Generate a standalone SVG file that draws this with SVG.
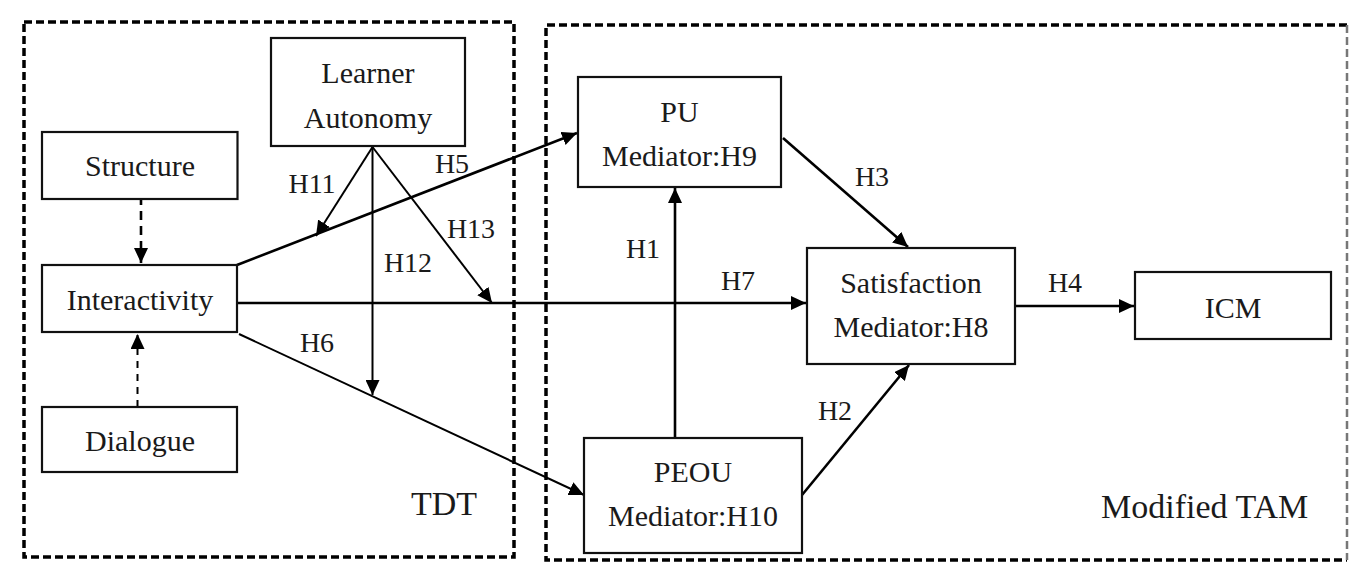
<svg xmlns="http://www.w3.org/2000/svg" width="1368" height="582" viewBox="0 0 1368 582">
<style>
.grp{fill:none;stroke:#000;stroke-width:3.5;stroke-dasharray:8 4}
.box{fill:#fff;stroke:#111;stroke-width:2.2}
text{font-family:'Liberation Serif','DejaVu Serif',serif;fill:#1a1a1a}
.t{font-size:30px;text-anchor:middle}
.lbl{font-size:28px;text-anchor:middle}
.big{font-size:34px}
.c{fill:none;stroke:#000;stroke-width:2.6}
.th{fill:none;stroke:#000;stroke-width:2}
.d1{fill:none;stroke:#000;stroke-width:2.6;stroke-dasharray:9 6}
.d2{fill:none;stroke:#000;stroke-width:2;stroke-dasharray:7 6}
</style>
<defs>
<marker id="ah" markerUnits="userSpaceOnUse" markerWidth="16" markerHeight="14" refX="15" refY="7" orient="auto">
<path d="M0,0 L15,7 L0,14 z" fill="#000"/>
</marker>
</defs>
<rect width="1368" height="582" fill="#fff"/>
<g id="group-TDT">
<rect class="grp" x="24" y="22" width="490" height="535"/>
<text class="big" x="411" y="515">TDT</text>
</g>
<g id="group-TAM">
<path class="grp" d="M1347,25 L546,25 L546,560 L1347,560"/>
<path d="M1347,25 L1347,560" fill="none" stroke="#777" stroke-width="2.5" stroke-dasharray="8 4"/>
<text class="big" x="1101" y="518">Modified TAM</text>
</g>
<g id="connectors">
<path class="d1" d="M141,196 L141,263" marker-end="url(#ah)"/>
<path class="d2" d="M137.5,407 L137.5,334" marker-end="url(#ah)"/>
<path class="c" d="M237,265 L577,133" marker-end="url(#ah)"/>
<path class="c" d="M237,303 L806,303" marker-end="url(#ah)"/>
<path class="th" d="M239,334 L584,495" marker-end="url(#ah)"/>
<path class="th" d="M372.5,147 L316,236" marker-end="url(#ah)"/>
<path class="th" d="M372.5,147 L372.5,395" marker-end="url(#ah)"/>
<path class="th" d="M372.5,147 L492,303" marker-end="url(#ah)"/>
<path class="c" d="M675,438 L675,188" marker-end="url(#ah)"/>
<path class="c" d="M783,138 L908,247" marker-end="url(#ah)"/>
<path class="c" d="M802,495 L909,365" marker-end="url(#ah)"/>
<path class="c" d="M1015,306 L1134,306" marker-end="url(#ah)"/>
<text class="lbl" x="312" y="193">H11</text>
<text class="lbl" x="452" y="173">H5</text>
<text class="lbl" x="471" y="238">H13</text>
<text class="lbl" x="408" y="272">H12</text>
<text class="lbl" x="317" y="352">H6</text>
<text class="lbl" x="643" y="258">H1</text>
<text class="lbl" x="738" y="290">H7</text>
<text class="lbl" x="872" y="186">H3</text>
<text class="lbl" x="835" y="420">H2</text>
<text class="lbl" x="1065" y="292">H4</text>
</g>
<g id="node-learner-autonomy">
<rect class="box" x="271" y="38" width="194" height="108"/>
<text class="t" x="368" y="83">Learner</text>
<text class="t" x="368" y="128">Autonomy</text>
</g>
<g id="node-structure">
<rect class="box" x="42" y="132" width="195.5" height="67"/>
<text class="t" x="140" y="176">Structure</text>
</g>
<g id="node-interactivity">
<rect class="box" x="42" y="265" width="195" height="67"/>
<text class="t" x="140" y="310">Interactivity</text>
</g>
<g id="node-dialogue">
<rect class="box" x="42" y="407" width="195" height="65"/>
<text class="t" x="140" y="451">Dialogue</text>
</g>
<g id="node-pu">
<rect class="box" x="578" y="77" width="203" height="110"/>
<text class="t" x="679.5" y="122">PU</text>
<text class="t" x="679.5" y="166">Mediator:H9</text>
</g>
<g id="node-satisfaction">
<rect class="box" x="807" y="248" width="208" height="116"/>
<text class="t" x="911" y="293">Satisfaction</text>
<text class="t" x="911" y="337">Mediator:H8</text>
</g>
<g id="node-peou">
<rect class="box" x="584" y="438" width="218" height="115"/>
<text class="t" x="693" y="482">PEOU</text>
<text class="t" x="693" y="526">Mediator:H10</text>
</g>
<g id="node-icm">
<rect class="box" x="1135" y="272" width="196" height="67"/>
<text class="t" x="1233" y="318">ICM</text>
</g>
</svg>
